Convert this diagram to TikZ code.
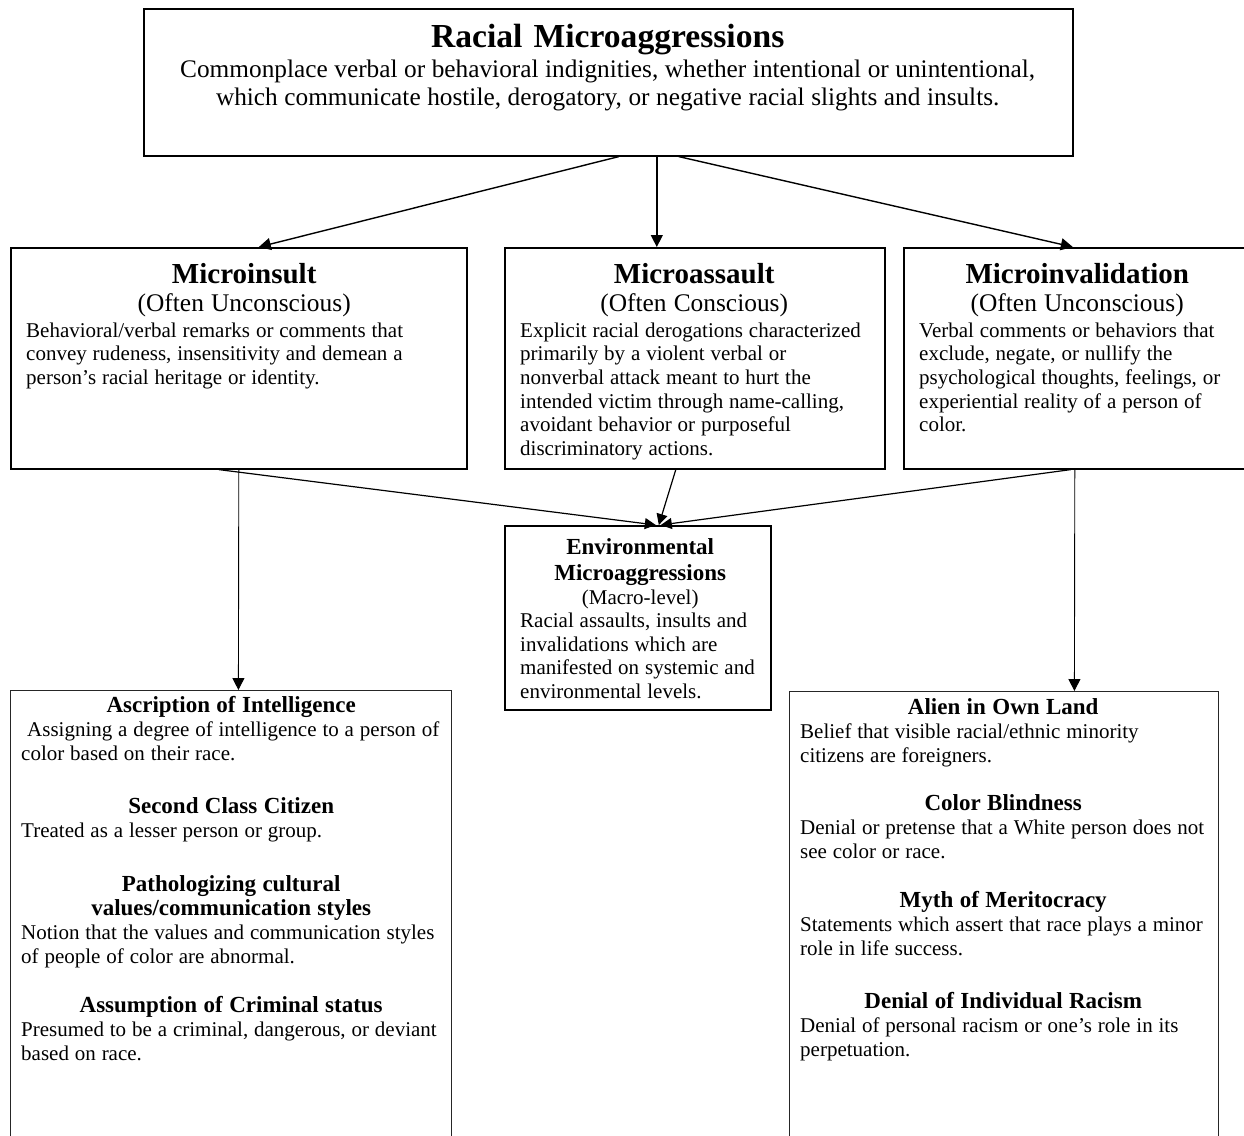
\documentclass[tikz,border=0pt]{standalone}
\usepackage{fontspec}
\setmainfont{Liberation Serif}
\usetikzlibrary{arrows.meta}

\newcommand\wsp{\spaceskip=.28em plus .1em minus .07em\relax}
\newcommand\boxhead[1]{{\centering\fontsize{29}{29}\selectfont\bfseries\wsp #1\par}}
\newcommand\boxsub[1]{{\centering\fontsize{25.4}{28}\selectfont\wsp #1\par}\vspace{2.4pt}}
\newcommand\boxbody{\fontsize{21}{23.6}\selectfont\wsp}
\newcommand\listhead[1]{{\centering\fontsize{23}{24}\selectfont\bfseries\wsp #1\par}}
\newcommand\listbody{\fontsize{21}{24}\selectfont\wsp}

\begin{document}
\begin{tikzpicture}[x=1pt,y=-1pt,
    box/.style={draw, line width=1.6pt, anchor=north west, inner sep=0pt},
    listbox/.style={draw=black!85, line width=0.8pt, anchor=north west, inner sep=0pt},
    txt/.style={anchor=north west, inner sep=0pt,
      execute at begin node={\setlength{\parindent}{0pt}\raggedright}},
    link/.style={line width=1.4pt, -{Triangle[length=12pt,width=12pt]}},
    midlink/.style={line width=1.2pt, -{Triangle[length=11pt,width=11pt]}},
    thinlink/.style={line width=0.9pt, -{Triangle[length=12pt,width=12pt]}}]
  \useasboundingbox (0,0) rectangle (1244,1135);

  % boxes
  \node[box, minimum width=929pt, minimum height=147pt] (top) at (143,8) {};
  \node[box, minimum width=456pt, minimum height=221pt] (insult) at (10,247) {};
  \node[box, minimum width=380pt, minimum height=221pt] (assault) at (504,247) {};
  \node[box, minimum width=347pt, minimum height=221pt] (invalid) at (903,247) {};
  \node[box, minimum width=266pt, minimum height=184pt] (env) at (504,525) {};
  \node[listbox, minimum width=441pt, minimum height=470pt] (ascr) at (10,690) {};
  \node[listbox, minimum width=429pt, minimum height=470pt] (alien) at (789,691) {};

  % texts
  \node[txt, text width=900pt] (toptext) at ([xshift=14.5pt,yshift=-16pt]top.north west)
    {{\centering\fontsize{33.6}{34}\selectfont\bfseries\spaceskip=.33em\relax Racial Microaggressions\par}\vspace{2pt}
     {\centering\fontsize{25.3}{28}\selectfont\spaceskip=.26em\relax Commonplace verbal or behavioral indignities, whether intentional or unintentional,\\
      which communicate hostile, derogatory, or negative racial slights and insults.\par}};
  \node[txt, text width=436pt] (insulttext) at ([xshift=16pt,yshift=-16pt]insult.north west)
    {\boxhead{Microinsult}\boxsub{(Often Unconscious)}\boxbody
     Behavioral/verbal remarks or comments that\\ convey rudeness, insensitivity and demean a\\
     person's racial heritage or identity.\par};
  \node[txt, text width=348pt] (assaulttext) at ([xshift=16pt,yshift=-16pt]assault.north west)
    {\boxhead{Microassault}\boxsub{(Often Conscious)}\boxbody
     Explicit racial derogations characterized\\ primarily by a violent verbal or\\
     nonverbal attack meant to hurt the\\ intended victim through name-calling,\\
     avoidant behavior or purposeful\\ discriminatory actions.\par};
  \node[txt, text width=316pt] (invalidtext) at ([xshift=16pt,yshift=-16pt]invalid.north west)
    {\boxhead{Microinvalidation}\boxsub{(Often Unconscious)}\boxbody
     Verbal comments or behaviors that\\ exclude, negate, or nullify the\\
     psychological thoughts, feelings, or\\ experiential reality of a person of\\ color.\par};
  \node[txt, text width=240pt] (envtext) at ([xshift=16pt,yshift=-13pt]env.north west)
    {{\centering\fontsize{23}{26}\selectfont\bfseries\wsp Environmental\\ Microaggressions\par}
     {\centering\fontsize{21}{24}\selectfont (Macro-level)\par}\boxbody
     Racial assaults, insults and\\ invalidations which are\\ manifested on systemic and\\
     environmental levels.\par};
  \node[txt, text width=420pt] (ascrtext) at ([xshift=11pt,yshift=-6pt]ascr.north west)
    {\listhead{Ascription of Intelligence}
     \listbody\hspace*{6pt}Assigning a degree of intelligence to a person of\\ color based on their race.\par\vspace{29pt}
     \listhead{Second Class Citizen}
     \listbody Treated as a lesser person or group.\par\vspace{30pt}
     \listhead{Pathologizing cultural\\ values/communication styles}
     \listbody Notion that the values and communication styles\\ of people of color are abnormal.\par\vspace{25pt}
     \listhead{Assumption of Criminal status}
     \listbody Presumed to be a criminal, dangerous, or deviant\\ based on race.\par};
  \node[txt, text width=406pt] (alientext) at ([xshift=11pt,yshift=-7pt]alien.north west)
    {\listhead{Alien in Own Land}
     \listbody Belief that visible racial/ethnic minority\\ citizens are foreigners.\par\vspace{24pt}
     \listhead{Color Blindness}
     \listbody Denial or pretense that a White person does not\\ see color or race.\par\vspace{25pt}
     \listhead{Myth of Meritocracy}
     \listbody Statements which assert that race plays a minor\\ role in life success.\par\vspace{29pt}
     \listhead{Denial of Individual Racism}
     \listbody Denial of personal racism or one's role in its\\ perpetuation.\par};

  % connectors
  \draw[link] ([xshift=10.5pt]top.south) -- ([xshift=20pt]insult.north);
  \draw[link] ([xshift=48.5pt]top.south) -- ([xshift=-38pt]assault.north);
  \draw[link] ([xshift=70.5pt]top.south) -- ([xshift=-4.5pt]invalid.north);
  \draw[midlink] ([xshift=-20pt]insult.south) -- ([xshift=18pt]env.north);
  \draw[midlink] ([xshift=-19pt]assault.south) -- ([xshift=21pt]env.north);
  \draw[midlink] ([xshift=-6.5pt]invalid.south) -- ([xshift=23pt]env.north);
  \draw[thinlink] (insult.south) -- ([xshift=7.5pt]ascr.north);
  \draw[thinlink] ([xshift=-2.5pt]invalid.south) -- ([xshift=70.5pt]alien.north);
\end{tikzpicture}
\end{document}
